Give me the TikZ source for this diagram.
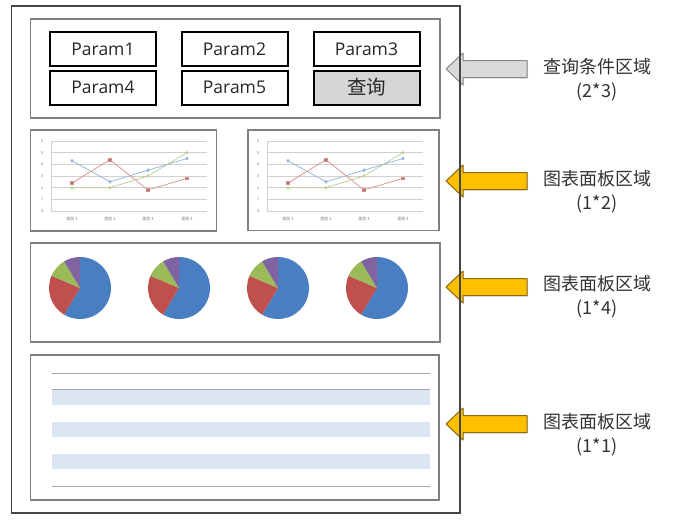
\documentclass[tikz,border=0pt]{standalone}
\usepackage{fontspec}
\setmainfont{Open Sans}
\newfontfamily\cjk{Noto Sans CJK SC}
\usetikzlibrary{shadows,plotmarks}
\definecolor{panelgray}{HTML}{808080}
\definecolor{framegray}{HTML}{454545}
\definecolor{btngray}{HTML}{D6D6D6}
\definecolor{gold}{HTML}{FFC000}
\definecolor{goldline}{HTML}{8C6A12}
\definecolor{arrgray}{HTML}{D9D9D9}
\definecolor{arrgrayline}{HTML}{8A8A8A}
\definecolor{pieblue}{HTML}{4A7EC2}
\definecolor{piered}{HTML}{C0504D}
\definecolor{piegreen}{HTML}{9BBB59}
\definecolor{piepurple}{HTML}{8064A2}
\definecolor{band}{HTML}{DCE6F2}
\definecolor{tline}{HTML}{A6A6A6}
\definecolor{sone}{HTML}{93B1DA}
\definecolor{stwo}{HTML}{D48E8C}
\definecolor{sthree}{HTML}{B8CF8E}
\definecolor{txt}{HTML}{262626}
\newcommand{\mychart}[2]{%
\begin{scope}[xshift=#1pt]
  \foreach \v in {1,...,6} \draw[gridln] (51,{211-\v*11.67}) -- (207,{211-\v*11.67});
  \draw[gridln] (51,211) -- (207,211);
  \draw[gridln] (51,141) -- (51,211);
  \foreach \v in {0,...,6} \node[tick] (#2y\v) at (42,{211-\v*11.67}) {\v};
  \foreach \i/\xx in {1/72,2/110,3/148,4/187} \node[tick] (#2c\i) at (\xx,219) {\cjk 类别 \i};
  \draw[sone, line width=0.7pt, mark=diamond*, mark size=1.4pt, mark options={fill=sone}] plot coordinates {(72,160.8) (110,181.8) (148,170.2) (187,158.5)};
  \draw[stwo, line width=0.7pt, mark=square*, mark size=1.3pt, mark options={fill=stwo!80!black}] plot coordinates {(72,183.0) (110,159.7) (148,190.0) (187,178.3)};
  \draw[sthree, line width=0.7pt, mark=triangle*, mark size=1.3pt, mark options={fill=sthree}] plot coordinates {(72,187.7) (110,187.7) (148,176.0) (187,152.7)};
\end{scope}}
\newcommand{\mypie}[3]{%
  \coordinate (#3) at (#1,#2);
  \fill[pieblue] (#3) -- ++(90:31pt) arc[start angle=90, end angle=-120.9, radius=31pt] -- cycle;
  \fill[piered] (#3) -- ++(-120.9:31pt) arc[start angle=-120.9, end angle=-203.2, radius=31pt] -- cycle;
  \fill[piegreen] (#3) -- ++(-203.2:31pt) arc[start angle=-203.2, end angle=-239.2, radius=31pt] -- cycle;
  \fill[piepurple] (#3) -- ++(-239.2:31pt) arc[start angle=-239.2, end angle=-270, radius=31pt] -- cycle;
}
\begin{document}
\begin{tikzpicture}[x=1pt,y=-1pt,
  panel/.style={draw=panelgray, line width=1.8pt, fill=white, inner sep=0pt},
  parambox/.style={draw=black, line width=2pt, fill=white, minimum width=106pt, minimum height=34pt, inner sep=0pt, text=txt, font=\fontsize{17.5}{20}\selectfont},
  querybtn/.style={parambox, fill=btngray, font=\cjk\fontsize{19.5}{22}\selectfont},
  gridln/.style={draw=black!18, line width=0.6pt},
  tick/.style={inner sep=0pt, text=black!55, font=\fontsize{4}{4}\selectfont},
  goldarrow/.style={fill=gold, draw=goldline, line width=1pt, line join=round, drop shadow={opacity=0.25, shadow xshift=1pt, shadow yshift=-1.2pt}},
  grayarrow/.style={fill=arrgray, draw=arrgrayline, line width=1pt, line join=round, drop shadow={opacity=0.25, shadow xshift=1pt, shadow yshift=-1.2pt}},
  lbl/.style={align=center, text=black!80, inner sep=0pt, font=\cjk\fontsize{18}{24}\selectfont},
  tableln/.style={draw=tline, line width=0.9pt}]
\useasboundingbox (0,0) rectangle (694,520);
\fill[white] (0,0) rectangle (694,520);

% arrows and labels
\coordinate (t1) at (446,69);
\coordinate (t2) at (446,181);
\coordinate (t3) at (446,287);
\coordinate (t4) at (446,424);
\draw[grayarrow] (t1) -- ++(17,-16) -- ++(0,7.5) -- ++(64,0) -- ++(0,17) -- ++(-64,0) -- ++(0,7.5) -- cycle;
\draw[goldarrow] (t2) -- ++(17,-16) -- ++(0,7.5) -- ++(64,0) -- ++(0,17) -- ++(-64,0) -- ++(0,7.5) -- cycle;
\draw[goldarrow] (t3) -- ++(17,-16) -- ++(0,7.5) -- ++(64,0) -- ++(0,17) -- ++(-64,0) -- ++(0,7.5) -- cycle;
\draw[goldarrow] (t4) -- ++(17,-16) -- ++(0,7.5) -- ++(64,0) -- ++(0,17) -- ++(-64,0) -- ++(0,7.5) -- cycle;
\node[lbl] (l1) at (597,80) {查询条件区域\\(2*3)};
\node[lbl] (l2) at (597,192) {图表面板区域\\(1*2)};
\node[lbl] (l3) at (597,297) {图表面板区域\\(1*4)};
\node[lbl] (l4) at (597,435) {图表面板区域\\(1*1)};

% outer frame
\node[draw=framegray, line width=1.4pt, minimum width=448.5pt, minimum height=507pt, inner sep=0pt] (frame) at (235.75,259.5) {};

% query panel
\node[panel, minimum width=409.5pt, minimum height=99pt] (qpanel) at (235.25,68.5) {};
\node[parambox] (p1) at (103,49) {Param1};
\node[parambox] (p2) at (234.5,49) {Param2};
\node[parambox] (p3) at (366.5,49) {Param3};
\node[parambox] (p4) at (103,87.5) {Param4};
\node[parambox] (p5) at (234.5,87.5) {Param5};
\node[querybtn] (qb) at (366.5,87.5) {查询};

% chart panels
\node[panel, minimum width=186pt, minimum height=101pt] (cpl) at (123.5,180.5) {};
\node[panel, minimum width=191pt, minimum height=100.5pt] (cpr) at (343.5,180.25) {};
\mychart{0}{L}
\mychart{216}{R}

% pie panel
\node[panel, minimum width=409.5pt, minimum height=99pt] (ppanel) at (235.25,292.5) {};
\mypie{80}{288}{pie1}
\mypie{179}{288}{pie2}
\mypie{278}{288}{pie3}
\mypie{377}{288}{pie4}

% table panel
\node[panel, minimum width=408.5pt, minimum height=145pt] (tpanel) at (234.75,427.5) {};
\fill[band] (52,389) rectangle (430,405);
\fill[band] (52,422) rectangle (430,437);
\fill[band] (52,454) rectangle (430,469);
\draw[tableln] (52,373) -- (430,373);
\draw[tableln] (52,389) -- (430,389);
\draw[tableln] (52,486) -- (430,486);
\end{tikzpicture}
\end{document}
